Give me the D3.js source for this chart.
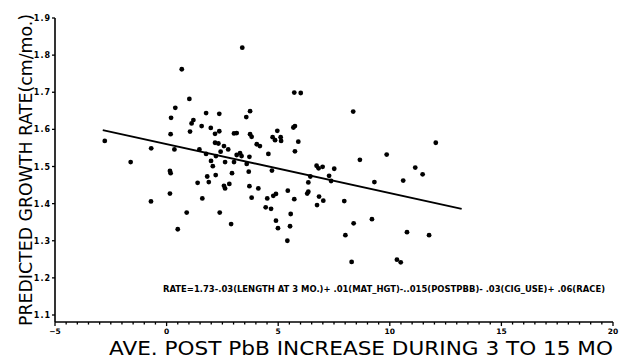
<!DOCTYPE html>
<html>
<head>
<meta charset="utf-8">
<script src="https://cdn.jsdelivr.net/npm/d3@7/dist/d3.min.js"></script>
<style>
html,body{margin:0;padding:0;background:#fff;}
svg{display:block;}
</style>
</head>
<body>
<svg id="chart" width="627" height="360"></svg>
<script>
// Observed points: average post PbB increase (x) vs predicted growth rate (y)
const pbIncrease = [
 3.39,0.68,1.02,0.39,0.20,1.77,2.36,3.74,3.57,1.20,1.12,1.05,1.57,1.98,2.36,2.17,3.02,3.14,3.74,3.81,
 0.18,-2.77,-0.69,0.35,2.17,2.32,2.57,2.76,1.47,4.04,3.14,3.29,3.36,1.77,2.21,3.71,-1.61,2.42,1.99,2.62,
 3.02,3.59,2.07,0.15,0.18,2.93,3.68,1.82,2.20,1.89,1.39,2.57,2.62,2.81,3.71,4.11,0.15,-0.70,1.60,3.81,
 0.90,2.38,2.89,0.50,5.72,6.01,8.36,5.68,5.75,4.96,4.75,4.86,5.11,5.13,4.18,5.90,4.56,5.75,12.06,9.86,
 8.66,4.72,6.72,6.81,6.99,7.51,11.14,11.47,7.28,6.44,6.35,7.37,9.31,10.60,4.51,4.78,4.90,5.43,5.72,6.35,
 6.30,6.83,7.02,6.74,7.96,4.44,4.68,5.56,4.90,4.99,5.53,5.41,8.38,9.20,8.01,10.77,11.76,8.29,10.32,10.49
];
const growthRate = [
 1.820,1.762,1.682,1.658,1.631,1.644,1.642,1.649,1.633,1.625,1.616,1.594,1.609,1.604,1.595,1.588,1.589,1.590,1.587,1.580,
 1.587,1.569,1.549,1.546,1.564,1.562,1.555,1.546,1.546,1.560,1.531,1.536,1.528,1.534,1.528,1.526,1.512,1.540,1.515,1.512,
 1.512,1.507,1.501,1.488,1.482,1.482,1.486,1.473,1.477,1.458,1.456,1.448,1.441,1.453,1.447,1.441,1.427,1.406,1.414,1.416,
 1.376,1.376,1.345,1.331,1.699,1.698,1.648,1.605,1.609,1.596,1.579,1.571,1.579,1.569,1.555,1.567,1.534,1.541,1.564,1.532,
 1.518,1.489,1.502,1.495,1.499,1.494,1.497,1.479,1.475,1.473,1.457,1.461,1.458,1.462,1.414,1.421,1.426,1.435,1.412,1.432,
 1.427,1.419,1.408,1.396,1.407,1.390,1.386,1.372,1.354,1.334,1.339,1.300,1.347,1.358,1.315,1.323,1.315,1.243,1.249,1.242
];
// Fitted regression line endpoints
const fitX = [-2.86, 13.22];
const fitY = [1.598, 1.386];
const xTicks = [-5, 0, 5, 10, 15, 20];
const yTicks = [1.1, 1.2, 1.3, 1.4, 1.5, 1.6, 1.7, 1.8, 1.9];
const xTitle = "AVE. POST PbB INCREASE DURING 3 TO 15 MO";
const yTitle = "PREDICTED GROWTH RATE(cm/mo.)";
const equation = "RATE=1.73-.03(LENGTH AT 3 MO.)+ .01(MAT_HGT)-..015(POSTPBB)- .03(CIG_USE)+ .06(RACE)";

const svg = d3.select("#chart");
const x = d3.scaleLinear().domain([-5, 20]).range([55, 613]);
const y = d3.scaleLinear().domain([1.1, 1.9]).range([315, 18]);
const axisY = y(1.081);

// x axis (minor ticks every 0.5, labels every 5)
const minor = d3.range(-5, 20.01, 0.5);
const gx = svg.append("g").attr("transform", `translate(0,${axisY})`);
gx.append("line").attr("x1", x(-5)).attr("x2", x(20)).attr("stroke", "#000").attr("stroke-width", 1.6);
gx.selectAll("line.mt").data(minor).enter().append("line")
  .attr("x1", d => x(d)).attr("x2", d => x(d)).attr("y1", 0)
  .attr("y2", d => (Math.abs(d % 5) < 1e-6) ? 4 : 2.5)
  .attr("stroke", "#000").attr("stroke-width", 1.3);
gx.selectAll("text").data(xTicks).enter().append("text")
  .attr("x", d => x(d)).attr("y", 11.5)
  .attr("text-anchor", "middle")
  .style("font-family", "DejaVu Sans").style("font-weight", "bold").style("font-size", "7.5px")
  .text(d => d3.format("d")(d));

// y axis
const gy = svg.append("g");
gy.append("line").attr("x1", x(-5)).attr("x2", x(-5)).attr("y1", y(1.9)).attr("y2", axisY)
  .attr("stroke", "#000").attr("stroke-width", 1.6);
gy.selectAll("line.t").data(yTicks).enter().append("line")
  .attr("x1", x(-5) - 3).attr("x2", x(-5)).attr("y1", d => y(d)).attr("y2", d => y(d))
  .attr("stroke", "#000").attr("stroke-width", 1.3);
gy.selectAll("text").data(yTicks).enter().append("text")
  .attr("x", x(-5) - 4).attr("y", d => y(d) + 3)
  .attr("text-anchor", "end")
  .style("font-family", "DejaVu Sans").style("font-weight", "bold").style("font-size", "8px")
  .style("letter-spacing", "1px")
  .text(d => d3.format(".1f")(d));

// regression line
svg.append("path")
  .datum(fitX.map((d, i) => [d, fitY[i]]))
  .attr("d", d3.line().x(d => x(d[0])).y(d => y(d[1])))
  .attr("stroke", "#000").attr("stroke-width", 1.8).attr("fill", "none");

// points
svg.append("g").selectAll("circle").data(pbIncrease.map((d, i) => [d, growthRate[i]]))
  .enter().append("circle")
  .attr("cx", d => x(d[0])).attr("cy", d => y(d[1])).attr("r", 2.4).attr("fill", "#000");

// equation
svg.append("text").attr("x", 163).attr("y", 292)
  .attr("textLength", 442).attr("lengthAdjust", "spacingAndGlyphs")
  .style("font-family", "DejaVu Sans").style("font-weight", "bold").style("font-size", "8.8px")
  .text(equation);

// titles
svg.append("text").attr("x", 613).attr("y", 355).attr("text-anchor", "end")
  .attr("textLength", 504).attr("lengthAdjust", "spacingAndGlyphs")
  .style("font-family", "DejaVu Sans").style("font-size", "20px")
  .text(xTitle);
svg.append("text").attr("transform", "translate(32,170) rotate(-90)")
  .attr("text-anchor", "middle")
  .attr("textLength", 312).attr("lengthAdjust", "spacingAndGlyphs")
  .style("font-family", "DejaVu Sans").style("font-size", "18px")
  .text(yTitle);
</script>
</body>
</html>
